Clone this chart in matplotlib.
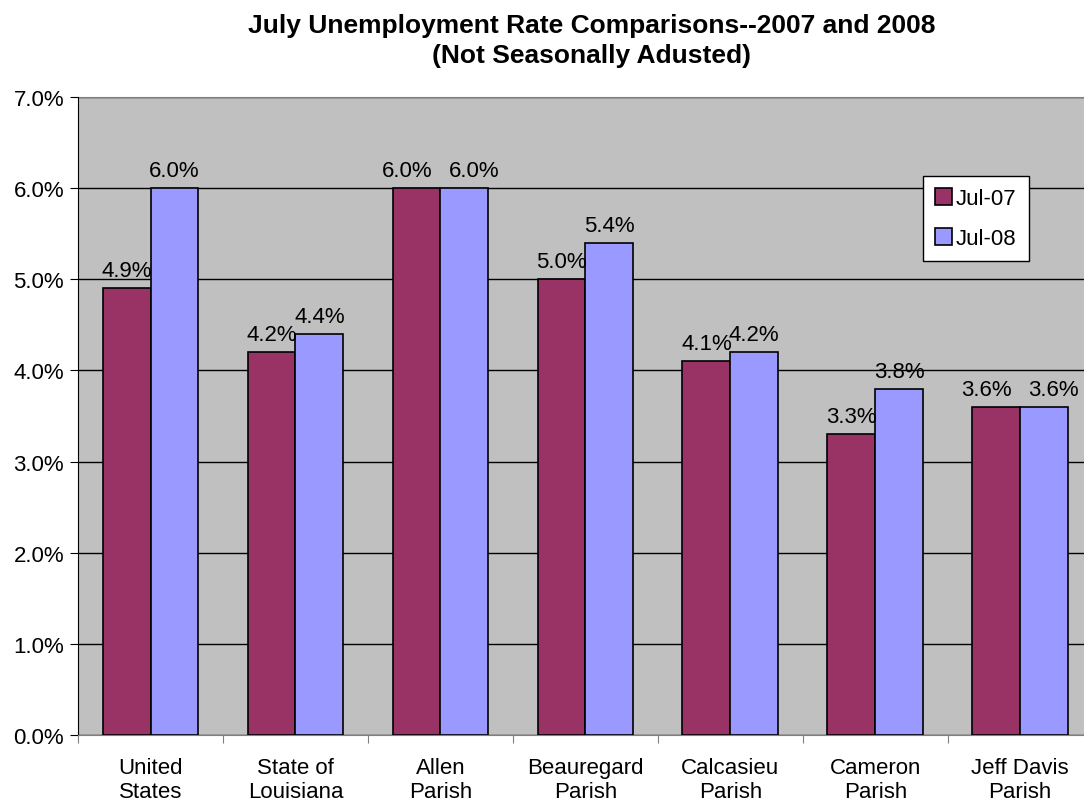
import matplotlib
matplotlib.use("Agg")
import matplotlib.pyplot as plt
import numpy as np

plt.rcParams['font.family'] = ['Liberation Sans', 'DejaVu Sans']

categories = ["United\nStates", "State of\nLouisiana", "Allen\nParish", "Beauregard\nParish",
              "Calcasieu\nParish", "Cameron\nParish", "Jeff Davis\nParish"]
jul07 = [4.9, 4.2, 6.0, 5.0, 4.1, 3.3, 3.6]
jul08 = [6.0, 4.4, 6.0, 5.4, 4.2, 3.8, 3.6]
series_names = ["Jul-07", "Jul-08"]

fig = plt.figure(figsize=(10.84, 8.03), dpi=100)
ax = fig.add_axes([0.072, 0.0834, 0.936, 0.7945])
ax.set_facecolor("#C0C0C0")

x = np.arange(len(categories))
w = 0.33
b1 = ax.bar(x - w/2, jul07, w, color="#993366", edgecolor="black", linewidth=1.2, label=series_names[0], zorder=3)
b2 = ax.bar(x + w/2, jul08, w, color="#9999FF", edgecolor="black", linewidth=1.2, label=series_names[1], zorder=3)

# labels above bars, pushed apart a little when the pair is the same height
for i in range(len(categories)):
    same = jul07[i] == jul08[i]
    for r, side in ((b1[i], -1), (b2[i], 1)):
        dx = side * 7 if same else 0
        ax.annotate("%.1f%%" % r.get_height(), (r.get_x() + r.get_width()/2, r.get_height()),
                    xytext=(dx, 5), textcoords="offset points", ha="center", va="bottom",
                    fontsize=16, zorder=4)

ax.set_xlim(-0.5, len(categories) - 0.5)
ax.set_ylim(0, 7)
ax.set_yticks(np.arange(0, 8, 1))
ax.set_yticklabels(["%.1f%%" % v for v in np.arange(0, 8, 1)], fontsize=16)
ax.yaxis.grid(True, color="black", linewidth=1)
ax.set_axisbelow(True)

ax.set_xticks(np.arange(-0.5, len(categories), 1))
ax.set_xticklabels([])
ax.set_xticks(x, minor=True)
ax.set_xticklabels(categories, minor=True, fontsize=16)
ax.tick_params(axis="x", which="minor", length=0, pad=16)
ax.tick_params(axis="x", which="major", length=6, direction="out", color="#808080")
ax.tick_params(axis="y", length=6, direction="out", pad=4)

ax.spines["right"].set_visible(False)
ax.spines["top"].set_color("#808080")
ax.spines["top"].set_zorder(2)
ax.spines["left"].set_color("black")
ax.spines["bottom"].set_color("#808080")

leg = ax.legend(loc="upper left", bbox_to_anchor=(0.8325, 0.876), fontsize=16, frameon=True,
                fancybox=False, edgecolor="black", framealpha=1, handlelength=0.75, handleheight=0.75,
                handletextpad=0.2, labelspacing=0.85, borderpad=0.55, borderaxespad=0)
leg.get_frame().set_linewidth(1)

fig.suptitle("July Unemployment Rate Comparisons--2007 and 2008\n(Not Seasonally Adusted)",
             x=0.546, y=0.983, fontsize=19, fontweight="bold", linespacing=1.35)

fig.savefig("out.png", dpi=100)
